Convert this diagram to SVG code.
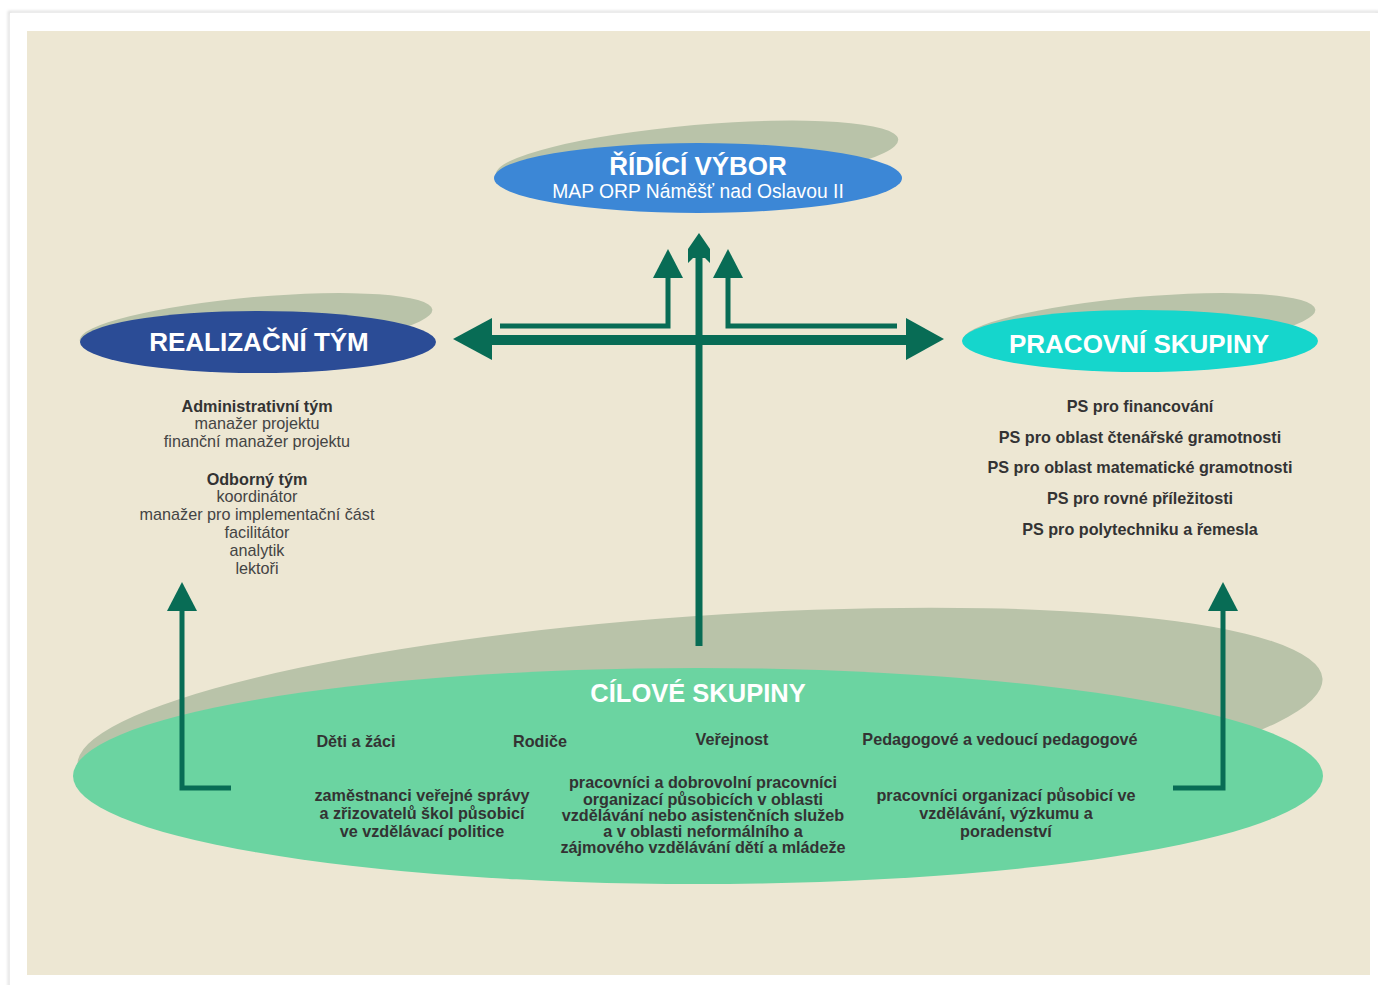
<svg xmlns="http://www.w3.org/2000/svg" width="1378" height="985" viewBox="0 0 1378 985">
<defs>
<style>
.sh{fill:#B9C3A9}
.arr{fill:#086C55}
.ln{stroke:#086C55;fill:none}
.t{font-family:"Liberation Sans",Arial,sans-serif;text-anchor:middle}
.w{fill:#FFFFFF;font-weight:bold}
.d{fill:#333333;font-weight:bold;font-size:16.2px}
.g{fill:#444444;font-size:16.2px}
.gb{fill:#333333;font-size:16.2px;font-weight:bold}
</style>
<filter id="blur" x="-5%" y="-5%" width="110%" height="110%"><feGaussianBlur stdDeviation="1.5"/></filter>
</defs>
<rect x="0" y="0" width="1378" height="985" fill="#FFFFFF"/>
<rect x="9" y="12" width="1369" height="980" fill="none" stroke="#D8D8D8" stroke-width="2" filter="url(#blur)"/>
<rect x="10" y="13" width="1368" height="975" fill="#FFFFFF"/>
<rect x="27" y="31" width="1343" height="944" fill="#EDE7D3"/>

<g id="node-cilove">
<ellipse class="sh" cx="700" cy="722" rx="624" ry="106" transform="rotate(-4 700 722)"/>
<ellipse cx="698" cy="776" rx="625" ry="108" fill="#6BD4A1"/>
<text class="t w" x="698" y="702" font-size="25.5">CÍLOVÉ SKUPINY</text>
<text class="t d" x="356" y="747">Děti a žáci</text>
<text class="t d" x="540" y="747">Rodiče</text>
<text class="t d" x="732" y="745">Veřejnost</text>
<text class="t d" x="1000" y="745">Pedagogové a vedoucí pedagogové</text>
<text class="t d" x="422" y="801">zaměstnanci veřejné správy</text>
<text class="t d" x="422" y="819">a zřizovatelů škol působicí</text>
<text class="t d" x="422" y="837">ve vzdělávací politice</text>
<text class="t d" x="703" y="788">pracovníci a dobrovolní pracovníci</text>
<text class="t d" x="703" y="805">organizací působicích v oblasti</text>
<text class="t d" x="703" y="821">vzdělávání nebo asistenčních služeb</text>
<text class="t d" x="703" y="837">a v oblasti neformálního a</text>
<text class="t d" x="703" y="853">zájmového vzdělávání dětí a mládeže</text>
<text class="t d" x="1006" y="801">pracovníci organizací působicí ve</text>
<text class="t d" x="1006" y="819">vzdělávání, výzkumu a</text>
<text class="t d" x="1006" y="837">poradenství</text>
</g>

<g id="node-ridici">
<ellipse class="sh" cx="697" cy="157" rx="202" ry="32" transform="rotate(-5 697 157)"/>
<ellipse cx="698" cy="178" rx="204" ry="35" fill="#3C87D6"/>
<text class="t w" x="698" y="175" font-size="26">ŘÍDÍCÍ VÝBOR</text>
<text class="t" x="698" y="198" font-size="19.3" fill="#FFFFFF">MAP ORP Náměšť nad Oslavou II</text>
</g>

<g id="node-realizacni">
<ellipse class="sh" cx="256" cy="325" rx="177" ry="28" transform="rotate(-5 256 325)"/>
<ellipse cx="258" cy="342" rx="178" ry="31" fill="#2B4C96"/>
<text class="t w" x="259" y="351" font-size="26">REALIZAČNÍ TÝM</text>
<text class="t gb" x="257" y="412">Administrativní tým</text>
<text class="t g" x="257" y="429">manažer projektu</text>
<text class="t g" x="257" y="447">finanční manažer projektu</text>
<text class="t gb" x="257" y="485">Odborný tým</text>
<text class="t g" x="257" y="502">koordinátor</text>
<text class="t g" x="257" y="520">manažer pro implementační část</text>
<text class="t g" x="257" y="538">facilitátor</text>
<text class="t g" x="257" y="556">analytik</text>
<text class="t g" x="257" y="574">lektoři</text>
</g>

<g id="node-pracovni">
<ellipse class="sh" cx="1139" cy="325" rx="177" ry="28" transform="rotate(-5 1139 325)"/>
<ellipse cx="1140" cy="341" rx="178" ry="31" fill="#15D6CC"/>
<text class="t w" x="1139" y="353" font-size="26">PRACOVNÍ SKUPINY</text>
<text class="t gb" x="1140" y="412">PS pro financování</text>
<text class="t gb" x="1140" y="443">PS pro oblast čtenářské gramotnosti</text>
<text class="t gb" x="1140" y="473">PS pro oblast matematické gramotnosti</text>
<text class="t gb" x="1140" y="504">PS pro rovné příležitosti</text>
<text class="t gb" x="1140" y="535">PS pro polytechniku a řemesla</text>
</g>

<g id="connectors">
<rect class="arr" x="488" y="335" width="422" height="10"/>
<polygon class="arr" points="453,339 492,318 492,360"/>
<polygon class="arr" points="944,339 906,318 906,360"/>
<polyline class="ln" stroke-width="5" points="500,326 668,326 668,276"/>
<polygon class="arr" points="668,249 653,278 683,278"/>
<polyline class="ln" stroke-width="5" points="897,326 728,326 728,276"/>
<polygon class="arr" points="728,249 713,278 743,278"/>
<line class="ln" stroke-width="7" x1="699" y1="646" x2="699" y2="250"/>
<polygon class="arr" points="699,233 688,249 688,263 693,258 705,258 710,263 710,249"/>
<polyline class="ln" stroke-width="5" points="231,788 182,788 182,609"/>
<polygon class="arr" points="182,582 167,611 197,611"/>
<polyline class="ln" stroke-width="5" points="1173,788 1223,788 1223,609"/>
<polygon class="arr" points="1223,582 1208,611 1238,611"/>
</g>
</svg>
